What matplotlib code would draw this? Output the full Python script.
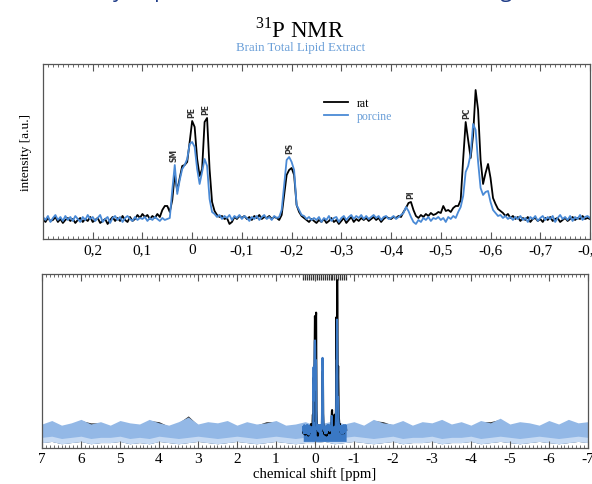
import numpy as np
import matplotlib
matplotlib.use('Agg')
import matplotlib.pyplot as plt
from matplotlib.ticker import MultipleLocator, FuncFormatter, FixedLocator

plt.rcParams['font.family'] = ['Liberation Serif', 'DejaVu Serif']
plt.rcParams['mathtext.fontset'] = 'custom'
plt.rcParams['mathtext.rm'] = 'Liberation Serif'
plt.rcParams['axes.unicode_minus'] = False

# 化学位移网格 (ppm), 0.3 -> -0.8, 步长 0.005
ppm = np.round(np.arange(0.300, -0.8001, -0.005), 3)

# rat (黑线) 强度, 每行 10 个点 = 0.05 ppm
rat = [
    0.01, -0.02, 0.02, -0.01, 0.00, 0.03, -0.02, 0.01, -0.03, 0.00,
    0.02, -0.01, 0.01, -0.03, 0.00, 0.02, -0.02, 0.01, -0.01, 0.03,
    -0.02, 0.00, 0.02, -0.03, -0.01, 0.01, -0.04, 0.00, 0.03, -0.01,
    0.02, -0.01, 0.04, 0.00, -0.02, 0.03, -0.01, 0.01, 0.05, 0.02,
    0.06, 0.03, 0.05, 0.01, 0.04, 0.02, 0.06, 0.03, 0.10, 0.14,
    0.14, 0.08, 0.20, 0.46, 0.29, 0.42, 0.54, 0.55, 0.58, 0.78,
    0.99, 0.93, 0.61, 0.44, 0.51, 0.98, 1.02, 0.51, 0.18, 0.09,
    0.05, 0.03, 0.04, 0.01, 0.02, -0.04, -0.02, 0.03, 0.01, 0.04,
    0.02, 0.04, 0.01, 0.03, 0.00, 0.04, 0.02, 0.05, 0.01, 0.03,
    0.02, 0.04, 0.01, 0.03, 0.02, 0.00, 0.05, 0.25, 0.45, 0.50,
    0.52, 0.45, 0.15, 0.08, 0.04, 0.02, 0.00, -0.02, 0.01, -0.01,
    -0.03, 0.00, -0.02, 0.01, -0.03, -0.01, 0.02, -0.02, 0.00, -0.04,
    -0.01, 0.02, -0.03, 0.00, 0.03, -0.02, 0.01, -0.01, 0.02, 0.00,
    0.02, -0.01, 0.01, 0.03, 0.00, 0.02, -0.02, 0.01, 0.03, 0.02,
    0.01, 0.03, 0.02, 0.04, 0.03, 0.08, 0.12, 0.17, 0.18, 0.10,
    0.04, 0.02, 0.05, 0.03, 0.06, 0.04, 0.07, 0.05, 0.06, 0.08,
    0.07, 0.14, 0.09, 0.10, 0.08, 0.12, 0.14, 0.14, 0.20, 0.61,
    0.98, 0.80, 0.62, 0.85, 1.30, 1.10, 0.60, 0.36, 0.47, 0.56,
    0.42, 0.22, 0.16, 0.11, 0.09, 0.07, 0.04, 0.06, 0.02, 0.04,
    0.01, 0.03, -0.01, 0.02, 0.00, 0.03, -0.02, 0.01, 0.02, -0.01,
    0.01, -0.02, 0.02, 0.00, 0.03, -0.01, 0.01, 0.02, -0.02, 0.00,
    0.02, -0.01, 0.01, 0.03, 0.00, 0.02, 0.01, 0.04, 0.01, 0.02,
    0.01,
]

# porcine (蓝线) 强度
porcine = [
    0.03, 0.00, 0.04, -0.02, 0.02, 0.05, 0.00, 0.03, -0.01, 0.04,
    0.00, 0.03, -0.01, 0.04, 0.01, -0.02, 0.03, 0.00, 0.05, 0.01,
    0.03, -0.01, 0.02, 0.05, -0.02, 0.01, 0.03, -0.03, 0.02, 0.04,
    0.00, 0.03, -0.02, 0.02, 0.04, 0.01, -0.01, 0.03, 0.00, 0.02,
    0.01, 0.03, -0.01, 0.02, 0.00, 0.03, 0.01, -0.01, 0.02, 0.00,
    0.01, 0.02, 0.30, 0.55, 0.26, 0.40, 0.51, 0.55, 0.61, 0.76,
    0.78, 0.73, 0.51, 0.36, 0.48, 0.61, 0.54, 0.21, 0.08, 0.06,
    0.03, 0.05, 0.01, 0.04, 0.02, 0.05, 0.00, 0.04, 0.02, 0.05,
    0.01, 0.04, 0.02, -0.01, 0.03, 0.01, 0.04, 0.00, 0.03, 0.05,
    0.01, 0.03, 0.00, 0.04, 0.02, 0.03, 0.10, 0.35, 0.60, 0.63,
    0.58, 0.50, 0.15, 0.10, 0.05, 0.04, 0.01, 0.03, 0.00, 0.02,
    0.00, 0.03, -0.02, 0.02, 0.00, 0.04, -0.01, 0.02, 0.03, -0.02,
    0.02, 0.04, 0.00, 0.03, 0.05, 0.01, 0.04, 0.02, 0.05, 0.01,
    0.04, 0.01, 0.03, 0.05, 0.02, 0.04, 0.00, 0.03, 0.04, 0.01,
    0.02, 0.04, 0.01, 0.03, 0.05, 0.07, 0.13, 0.09, 0.03, -0.02,
    -0.04, 0.00, -0.02, 0.02, 0.00, 0.03, -0.01, 0.02, 0.01, 0.03,
    0.00, 0.02, -0.02, 0.03, 0.01, 0.04, 0.02, 0.08, 0.13, 0.24,
    0.48, 0.54, 0.66, 0.96, 0.90, 0.58, 0.32, 0.25, 0.28, 0.29,
    0.18, 0.10, 0.07, 0.04, 0.05, 0.02, 0.04, 0.01, 0.03, 0.00,
    0.03, 0.01, 0.04, 0.00, 0.02, -0.02, 0.03, 0.01, 0.04, -0.01,
    0.02, 0.04, 0.00, 0.03, 0.01, 0.04, -0.02, 0.02, 0.05, 0.01,
    0.03, 0.00, 0.04, -0.01, 0.03, 0.01, 0.05, 0.00, 0.03, 0.04,
    0.02,
]

# 峰标注
peak_names = ['SM', 'PE', 'PE', 'PS', 'PI', 'PC']
peak_ppm = [0.036, 0.0, -0.028, -0.197, -0.44, -0.553]

# 全谱噪声包络 (7 -> -7 ppm, 步长 0.25)
full_ppm = np.arange(7.0, -7.001, -0.25)
porcine_hi = [
    0.06, 0.09, 0.05, 0.07, 0.10, 0.06, 0.08, 0.05, 0.09, 0.07,
    0.06, 0.10, 0.07, 0.05, 0.08, 0.12, 0.06, 0.08, 0.07, 0.09,
    0.05, 0.08, 0.06, 0.07, 0.09, 0.05, 0.06, 0.08, 0.05, 0.07,
    0.09, 0.06, 0.08, 0.05, 0.10, 0.07, 0.06, 0.09, 0.05, 0.08,
    0.07, 0.10, 0.06, 0.08, 0.05, 0.09, 0.07, 0.11, 0.06, 0.08,
    0.07, 0.05, 0.09, 0.06, 0.10, 0.07, 0.08,
]
porcine_lo = [
    -0.10, -0.09, -0.11, -0.10, -0.09, -0.11, -0.10, -0.10, -0.09, -0.11,
    -0.10, -0.11, -0.09, -0.10, -0.11, -0.10, -0.09, -0.10, -0.11, -0.10,
    -0.09, -0.10, -0.11, -0.10, -0.09, -0.10, -0.11, -0.10, -0.10, -0.09,
    -0.11, -0.10, -0.09, -0.10, -0.11, -0.10, -0.09, -0.11, -0.10, -0.10,
    -0.09, -0.11, -0.10, -0.10, -0.09, -0.11, -0.10, -0.09, -0.10, -0.11,
    -0.10, -0.09, -0.10, -0.11, -0.10, -0.09, -0.10,
]
rat_hi = [
    0.05, 0.08, 0.04, 0.06, 0.09, 0.07, 0.07, 0.04, 0.08, 0.06,
    0.05, 0.09, 0.08, 0.04, 0.07, 0.13, 0.05, 0.07, 0.06, 0.08,
    0.04, 0.07, 0.05, 0.08, 0.08, 0.04, 0.05, 0.07, 0.04, 0.06,
    0.08, 0.05, 0.07, 0.04, 0.09, 0.08, 0.05, 0.08, 0.04, 0.07,
    0.06, 0.09, 0.05, 0.07, 0.04, 0.08, 0.08, 0.10, 0.05, 0.07,
    0.06, 0.04, 0.08, 0.05, 0.09, 0.06, 0.07,
]

BLUE = '#4a8ad6'
DARK_BLUE = '#3a78c4'
LIGHT = '#93b8e6'
PALE = '#c6daf3'
SPINE = '#555555'

fig = plt.figure(figsize=(5.92, 4.85), dpi=100)

# 被裁掉的幻灯片标题 (只露出下伸部分)
fig.text(0.115, 1 + 3.0 / 485, 'Study of polar head classes in the brain using',
         family=['Open Sans', 'DejaVu Sans'], fontsize=15.25, color='#1f3c88',
         ha='left', va='baseline')

fig.text(0.507, 1 - 37.0 / 485, '$^{31}$P NMR', fontsize=16.5, ha='center', va='baseline')
fig.text(0.507, 1 - 51.0 / 485, 'Brain Total Lipid Extract', fontsize=9.3, color='#6a9fd8',
         ha='center', va='baseline')

ax1 = fig.add_axes([0.0726, 0.5052, 0.924, 0.3608])
ax2 = fig.add_axes([0.0710, 0.0742, 0.922, 0.3588])

# 上图：局部放大
ax1.plot(ppm, rat, color='black', lw=1.3, label='rat')
ax1.plot(ppm, porcine, color=BLUE, lw=1.3, label='porcine')
ax1.set_xlim(0.3, -0.8)
ax1.set_ylim(-0.19, 1.56)

rat_arr = np.array(rat)
por_arr = np.array(porcine)
for name, p in zip(peak_names, peak_ppm):
    win = np.abs(ppm - p) <= 0.012
    top = max(rat_arr[win].max(), por_arr[win].max())
    ax1.text(p, top + 0.04, name, rotation=90, fontsize=5.5, fontweight='bold',
             family='DejaVu Sans', color='#333333', ha='center', va='bottom')

leg = ax1.legend(loc='upper left', bbox_to_anchor=(0.505, 0.84), frameon=False,
                 fontsize=8.5, handlelength=2.0, handletextpad=0.8,
                 labelspacing=0.1, borderaxespad=0)
leg.get_texts()[1].set_color('#6a9fd8')

ax1.set_ylabel('intensity [a.u.]', fontsize=9.5, labelpad=8)
ax1.set_yticks([])
ax1.xaxis.set_major_locator(FixedLocator(np.round(np.arange(0.2, -0.81, -0.1), 1)))
ax1.xaxis.set_minor_locator(MultipleLocator(0.01))


def fmt_dec(v, pos):
    if abs(v) < 1e-9:
        return '0'
    return f'{v:.1f}'.replace('.', ',')


ax1.xaxis.set_major_formatter(FuncFormatter(fmt_dec))

# 下图：全谱
ax2.fill_between(full_ppm, porcine_lo, rat_hi, color='#333333', lw=0)
ax2.fill_between(full_ppm, porcine_lo, porcine_hi, color=LIGHT, lw=0)
ax2.fill_between(full_ppm, porcine_lo, np.array(porcine_lo) + 0.045, color=PALE, lw=0)
ax2.fill_between(ppm, np.minimum(rat_arr, por_arr), -0.09, color=DARK_BLUE, lw=0)
ax2.plot(ppm, rat, color='black', lw=1.5)
ax2.plot(ppm, porcine, color=DARK_BLUE, lw=1.5)
ax2.set_xlim(7, -7)
ax2.set_ylim(-0.147, 1.353)
ax2.set_yticks([])
ax2.xaxis.set_major_locator(MultipleLocator(1))
ax2.xaxis.set_minor_locator(MultipleLocator(0.1))
ax2.xaxis.set_major_formatter(FuncFormatter(lambda v, pos: f'{int(round(v))}'))
ax2.set_xlabel('chemical shift [ppm]', fontsize=10.6, labelpad=1)

# 下图顶部：放大区间的密集刻度
sec = ax2.secondary_xaxis('top')
sec.set_xticks(np.arange(0.3, -0.81, -0.05))
sec.set_xticklabels([])
sec.tick_params(direction='in', length=4, width=0.9, color='#333333')
sec.spines['top'].set_visible(False)

for ax in (ax1, ax2):
    for s in ax.spines.values():
        s.set_color(SPINE)
        s.set_linewidth(0.9)
    ax.tick_params(axis='x', which='both', direction='in', top=True, bottom=True,
                   color=SPINE, labelsize=11, pad=3)
    ax.tick_params(axis='x', which='major', length=5, width=0.8)
    ax.tick_params(axis='x', which='minor', length=2.5, width=0.6)

fig.savefig('out.png', dpi=100)
